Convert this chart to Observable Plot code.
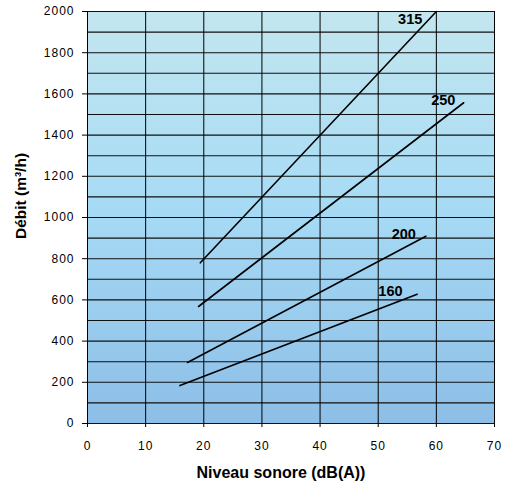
<!DOCTYPE html>
<html><head><meta charset="utf-8">
<script src="https://cdn.jsdelivr.net/npm/d3@7"></script>
<script src="https://cdn.jsdelivr.net/npm/@observablehq/plot@0.6"></script>
<style>body{margin:0;background:#fff;font-family:"Liberation Sans",Arial,sans-serif;}</style>
</head><body><div id="chart"></div>
<script>
const seriesNames = ["315", "250", "200", "160"];
const x315 = [19.4, 60.0], y315 = [780, 2000];
const x250 = [19.1, 64.7], y250 = [568, 1557];
const x200 = [17.2, 58.2], y200 = [296, 909];
const x160 = [15.9, 56.7], y160 = [184, 627];
const labelX = [55.5, 61.2, 54.4, 52.1];
const labelY = [1960, 1567, 916, 640];
const xTicks = [0, 10, 20, 30, 40, 50, 60, 70];
const yTicks = [0, 200, 400, 600, 800, 1000, 1200, 1400, 1600, 1800, 2000];
const yGrid = d3.range(0, 2001, 100);

const xs = [x315, x250, x200, x160], ys = [y315, y250, y200, y160];
const lines = seriesNames.flatMap((s, i) => xs[i].map((x, j) => ({series: s, x, y: ys[i][j]})));
const labels = seriesNames.map((s, i) => ({series: s, x: labelX[i], y: labelY[i]}));

const bgDefs = () => {
  const svg = d3.create("svg:g");
  const g = svg.append("defs").append("linearGradient").attr("id", "bg").attr("x1", 0).attr("y1", 0).attr("x2", 0).attr("y2", 1);
  g.append("stop").attr("offset", "0%").attr("stop-color", "#c3e6ef");
  g.append("stop").attr("offset", "45%").attr("stop-color", "#a8dcf5");
  g.append("stop").attr("offset", "100%").attr("stop-color", "#8dbee7");
  return svg.node();
};

const chart = Plot.plot({
  width: 507, height: 486,
  marginLeft: 87, marginRight: 13, marginTop: 11, marginBottom: 63,
  style: {fontFamily: "'Liberation Sans', Arial, sans-serif", fontSize: "12px", color: "#000", background: "#fff"},
  x: {domain: [0, 70]},
  y: {domain: [0, 2000]},
  marks: [
    bgDefs,
    Plot.frame({fill: "url(#bg)", stroke: "#888"}),
    Plot.ruleY(yGrid, {stroke: "#111", strokeWidth: 1.1}),
    Plot.ruleX(xTicks, {stroke: "#000", strokeWidth: 1}),
    Plot.axisX(xTicks, {tickSize: 4, tickPadding: 14, fontSize: 12, label: "Niveau sonore (dB(A))", labelAnchor: "center", labelArrow: "none", labelOffset: 54, tickFormat: d3.format("d")}),
    Plot.axisY(yTicks, {tickSize: 5, tickPadding: 8, fontSize: 12, label: null, tickFormat: d3.format("d")}),
    Plot.line(lines, {x: "x", y: "y", z: "series", stroke: "#000", strokeWidth: 1.6}),
    Plot.text(labels, {x: "x", y: "y", text: "series", fontWeight: "bold", fontSize: 14.5, fill: "#000"})
  ]
});
d3.select(chart).selectAll("g[aria-label='x-axis label'] text").attr("font-weight", "bold").attr("font-size", 16).attr("dx", -10);
d3.select(chart).selectAll("g[aria-label='x-axis tick label'] text, g[aria-label='y-axis tick label'] text").attr("letter-spacing", "1px");
d3.select(chart).append("text")
  .attr("transform", "translate(22,196) rotate(-90)")
  .attr("text-anchor", "middle").attr("dominant-baseline", "middle")
  .attr("font-weight", "bold").attr("font-size", 15.5)
  .text("Débit (m³/h)");
document.getElementById("chart").appendChild(chart);
</script></body></html>
